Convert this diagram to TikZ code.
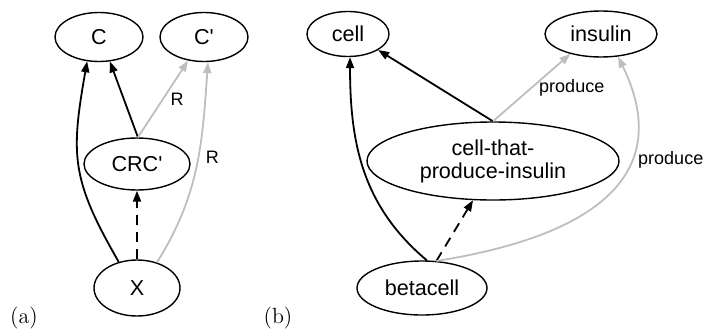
\documentclass[tikz,border=0pt]{standalone}
\usepackage{fontspec}
\usepackage{xcolor}
\usepackage{tikz}
\usetikzlibrary{shapes.geometric,arrows.meta}
\newfontfamily\graphfont{Liberation Sans}
\definecolor{relgray}{RGB}{190,190,190}

\begin{document}
\begin{tikzpicture}[node distance=63.5pt,
  concept/.style={ellipse, draw=black, line width=0.7pt, inner sep=0pt, text centered, font=\graphfont\fontsize{10.8}{11.5}\selectfont},
  isa/.style={-{Triangle[length=5.5pt,width=4pt]}, line width=0.9pt, black},
  rel/.style={-{Triangle[length=5.5pt,width=4pt]}, line width=0.9pt, relgray},
  sub/.style={isa, dash pattern=on 5pt off 3.5pt},
  rellabel/.style={font=\graphfont\fontsize{9}{10}\selectfont, text=black, right}]
\useasboundingbox (0,0) rectangle (355pt,166.5pt);

% (a)
\node (C) [concept, minimum width=44pt, minimum height=24.5pt] at (49.5pt,148pt) {C};

\node (Cp) [concept, minimum width=44pt, minimum height=24.5pt, right of=C, xshift=-11pt] {C\textquotesingle};

\node (CRC) [concept, minimum width=53pt, minimum height=26pt, below of=C, xshift=19pt] {CRC\textquotesingle};

\node (X) [concept, minimum width=43pt, minimum height=28pt, below of=CRC, yshift=1.5pt] {X};

% (b)
\node (cell) [concept, minimum width=41pt, minimum height=22.5pt] at (174pt,149.5pt) {cell};

\node (insulin) [concept, minimum width=56pt, minimum height=23pt, right of=cell, xshift=63pt] {insulin};

\node (cthp) [concept, minimum width=126pt, minimum height=39pt, align=center, below of=cell, xshift=72.5pt] {cell-that-\\produce-insulin};

\node (betacell) [concept, minimum width=65pt, minimum height=27pt, below of=cthp, xshift=-35.5pt] {betacell};

\node (tagA) [font=\fontsize{11}{13}\selectfont] at (12pt,7.5pt) {(a)};
\node (tagB) [font=\fontsize{11}{13}\selectfont, right of=tagA, xshift=63.5pt] {(b)};

\draw[isa] (X.125) to[out=120, in=-100, looseness=1.2] (C.-116);
\draw[isa] (CRC.88) -- (C.-66);
\draw[rel] (CRC.88) -- node[rellabel] {R} (Cp.-124);
\draw[rel] (X.52) to[out=58, in=-94] node[rellabel, pos=0.55] {R} (Cp.-81);
\draw[sub] (X) -- (CRC);

\draw[isa] (betacell.80) to[out=140, in=-90] (cell.-85);
\draw[isa] (cthp.north) -- (cell.-28);
\draw[rel] (cthp.north) -- node[rellabel] {produce} (insulin.-147);
\draw[sub] (betacell.62) -- (cthp.-117);
\draw[rel] (betacell.62) to[out=9, in=-64, out looseness=1.74, in looseness=1.08] node[rellabel, pos=0.62] {produce} (insulin.-53);

\end{tikzpicture}
\end{document}
